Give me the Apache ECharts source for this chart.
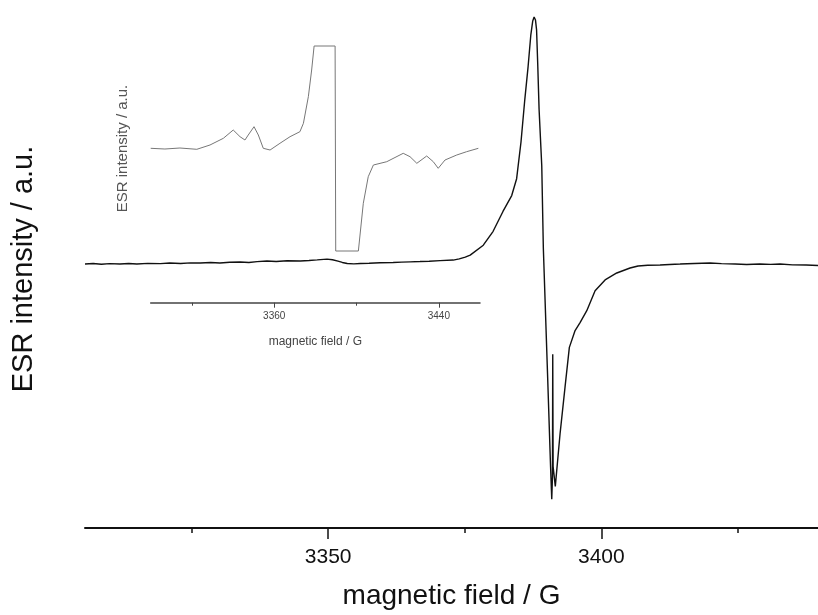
<!DOCTYPE html>
<html>
<head>
<meta charset="utf-8">
<script src="https://cdn.jsdelivr.net/npm/echarts@6/dist/echarts.min.js"></script>
<style>
html,body{margin:0;padding:0;background:#fff;}
#chart{width:818px;height:615px;}
</style>
</head>
<body>
<div id="chart"></div>
<script>
// Main spectrum: magnetic field (G) and ESR intensity (a.u.)
const mainField = [3305.5,3307,3308.5,3310,3311.9,3313.5,3315,3317,3319.3,3321,3323,3324.8,3326.6,3328.5,3330.2,3332,3333.9,3335.5,3337,3338.8,3340.5,3342.5,3344.9,3346.5,3348,3349.8,3350.8,3351.8,3352.6,3353.5,3354.7,3355.9,3357.5,3359.5,3361.9,3363.5,3365,3366.8,3368.5,3370.5,3372.9,3374,3375.1,3376,3378.4,3380.2,3382.0,3383.6,3384.5,3385.3,3386.0,3386.6,3387.1,3387.45,3387.7,3387.95,3388.15,3388.37,3388.61,3389.10,3389.39,3390.16,3390.71,3390.93,3391.06,3391.11,3391.18,3391.58,3391.99,3392.45,3393.36,3394.15,3395.20,3396.11,3397.34,3398.86,3400.69,3402.83,3405.26,3406.73,3408.5,3410.75,3412.5,3414.41,3417,3419.9,3422,3424.5,3426.61,3429,3431,3432.71,3435,3437.5,3439.66];
const mainIntensity = [-1,-0.5,-1.2,-0.6,-1,-0.4,-1,-0.3,-0.6,0,-0.5,0.2,0,0.6,0.1,0.8,1,0.6,1.4,2,1.5,2.3,2,2.6,3.2,4,3.3,2,0.6,-0.5,-0.8,-0.5,-0.2,0.3,0.5,0.9,1.2,1.5,1.8,2.4,3,4.2,6,8,18,32,52,68,85,122,165,198,230,244,248,245,235,199,155,98,15,-112,-205,-238,-215,-92,-205,-225,-200,-172,-125,-85,-68,-60,-48,-28,-17,-10,-5,-3,-2.2,-2,-1.4,-1,-0.4,0,-0.6,-0.9,-1.5,-1,-1.3,-1,-1.8,-2,-2.5];

// Inset (enlarged, clipped at the plot limits)
const insetField = [3300,3306.9,3314.2,3322.4,3328.8,3335.3,3340.1,3343.4,3345.8,3347.4,3350.2,3352.3,3354.7,3358.0,3362.8,3367.7,3372.5,3374.2,3376.6,3378.2,3379.4,3389.6,3389.9,3400.9,3403.3,3405.7,3408.2,3414.7,3422.7,3426.0,3429.3,3434.1,3437.3,3439.7,3443.0,3448.7,3453.5,3459.2];
const insetIntensity = [1.7,1,2,0.7,5,11.7,20,13.3,10,15,23.3,15,1.7,0,6.7,13.3,18.3,26.7,53.3,80,104,104,-101,-101,-53.3,-26.7,-15,-11.7,-3.3,-6.7,-13.3,-6,-11.7,-18.3,-10,-5,-1.7,1.7];

const mainMajorTicks = [3350, 3400];
const mainMinorTicks = [3325, 3375, 3425];
const insetMajorTicks = [3360, 3440];
const insetMinorTicks = [3320, 3400];

const xTitle = 'magnetic field / G';
const yTitle = 'ESR intensity / a.u.';

const FONT = '"Liberation Sans", Arial, sans-serif';
const zip = (a, b) => a.map((v, i) => [v, b[i]]);
const plain = v => String(v);

const chart = echarts.init(document.getElementById('chart'), null, {renderer: 'canvas'});
const mainMin = 3305.5, mainMax = 3439.66;
const insetMin = 3300, insetMax = 3460, insetOffset = 51.7;

chart.setOption({
  animation: false,
  backgroundColor: '#fff',
  grid: [
    {left: 85, right: 0, top: 10, height: 522, containLabel: false},
    {left: 150.7, top: 46, width: 329.3, height: 205, containLabel: false}
  ],
  xAxis: [
    {
      gridIndex: 0, type: 'value', position: 'bottom', min: mainMin, max: mainMax,
      axisLine: {show: true, onZero: false, lineStyle: {color: '#111', width: 2}},
      axisTick: {show: true, customValues: mainMajorTicks, length: 11, lineStyle: {color: '#111', width: 1.5}},
      axisLabel: {show: true, customValues: mainMajorTicks, formatter: plain, fontSize: 21, color: '#111', margin: 19, fontFamily: FONT},
      splitLine: {show: false},
      name: xTitle, nameLocation: 'middle', nameGap: 54,
      nameTextStyle: {fontSize: 28, color: '#111', fontFamily: FONT}
    },
    {
      gridIndex: 0, type: 'value', position: 'bottom', min: mainMin, max: mainMax,
      axisLine: {show: false, onZero: false},
      axisTick: {show: true, customValues: mainMinorTicks, length: 5, lineStyle: {color: '#111', width: 1.5}},
      axisLabel: {show: false},
      splitLine: {show: false}
    },
    {
      gridIndex: 1, type: 'value', position: 'bottom', offset: insetOffset, min: insetMin, max: insetMax,
      axisLine: {show: true, onZero: false, lineStyle: {color: '#444', width: 1.5}},
      axisTick: {show: true, customValues: insetMajorTicks, length: 5, lineStyle: {color: '#444', width: 1}},
      axisLabel: {show: true, customValues: insetMajorTicks, formatter: plain, fontSize: 10, color: '#444', margin: 9, fontFamily: FONT},
      splitLine: {show: false},
      name: xTitle, nameLocation: 'middle', nameGap: 33,
      nameTextStyle: {fontSize: 12, color: '#444', fontFamily: FONT}
    },
    {
      gridIndex: 1, type: 'value', position: 'bottom', offset: insetOffset, min: insetMin, max: insetMax,
      axisLine: {show: false, onZero: false},
      axisTick: {show: true, customValues: insetMinorTicks, length: 3, lineStyle: {color: '#444', width: 1}},
      axisLabel: {show: false},
      splitLine: {show: false}
    }
  ],
  yAxis: [
    {
      gridIndex: 0, type: 'value', min: -267, max: 255,
      axisLine: {show: false, onZero: false}, axisTick: {show: false}, axisLabel: {show: false}, splitLine: {show: false},
      name: yTitle, nameLocation: 'middle', nameGap: 47,
      nameTextStyle: {fontSize: 29, color: '#111', fontFamily: FONT}
    },
    {
      gridIndex: 1, type: 'value', min: -101, max: 104,
      axisLine: {show: false, onZero: false}, axisTick: {show: false}, axisLabel: {show: false}, splitLine: {show: false},
      name: yTitle, nameLocation: 'middle', nameGap: 20,
      nameTextStyle: {fontSize: 15, color: '#555', fontFamily: FONT}
    }
  ],
  series: [
    {
      type: 'line', xAxisIndex: 0, yAxisIndex: 0, data: zip(mainField, mainIntensity),
      showSymbol: false, symbol: 'none', clip: false,
      lineStyle: {color: '#111', width: 1.4}
    },
    {
      type: 'line', xAxisIndex: 2, yAxisIndex: 1, data: zip(insetField, insetIntensity),
      showSymbol: false, symbol: 'none', clip: false,
      lineStyle: {color: '#777', width: 1}
    }
  ]
});
</script>
</body>
</html>
